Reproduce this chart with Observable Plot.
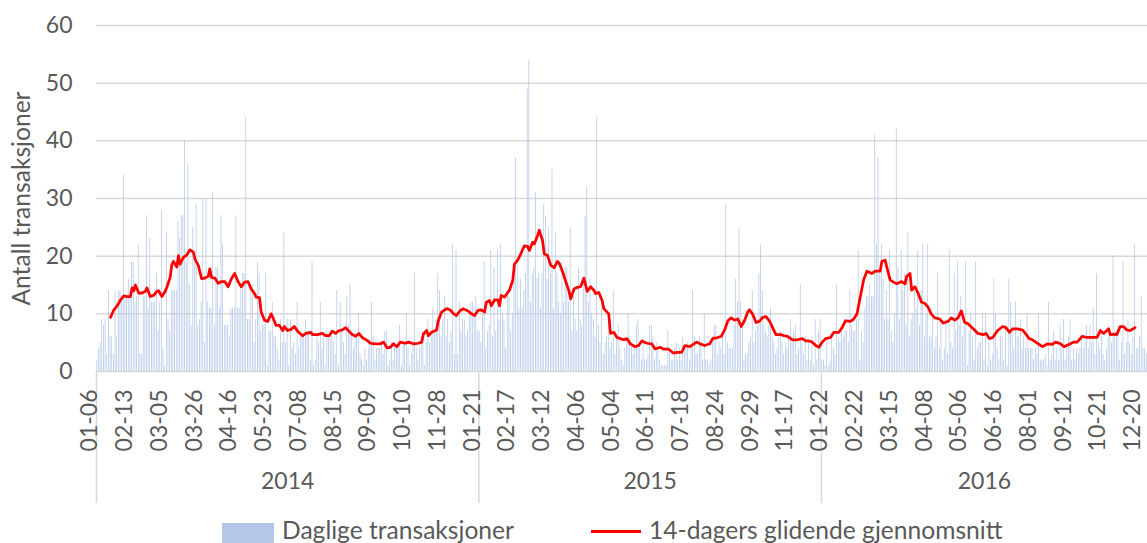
<!DOCTYPE html>
<html><head><meta charset="utf-8">
<script src="https://cdn.jsdelivr.net/npm/d3@7"></script>
<script src="https://cdn.jsdelivr.net/npm/@observablehq/plot@0.6"></script>
<style>
html,body{margin:0;padding:0;background:#fff;overflow:hidden;}
#wrap{position:relative;width:1147px;height:543px;font-family:Lato,sans-serif;color:#595959;}
#legend{position:absolute;left:0;top:512px;width:1147px;height:31px;font-size:24.6px;line-height:24px;}
#legend .sw{position:absolute;}
#legend .lbl{position:absolute;white-space:nowrap;}
</style></head>
<body><div id="wrap"><div id="chart"></div>
<div id="legend">
  <div class="sw" style="left:222px;top:11px;width:52px;height:20px;background:#b4c7e7"></div>
  <span class="lbl" style="left:282px;top:6px">Daglige transaksjoner</span>
  <div class="sw" style="left:591px;top:18px;width:50px;height:2.5px;background:#ff0000"></div>
  <span class="lbl" style="left:649px;top:6px">14-dagers glidende gjennomsnitt</span>
</div></div>
<script>
// ---- data ----
const years = ["2014", "2015", "2016"];
const bars2014 = [2,4,5,9,8,9,3,14,6,6,3,14,6,14,14,13,34,13,13,16,14,
 19,19,12,13,22,3,3,13,13,27,11,23,12,12,12,17,7,12,28,4,1,
 24,9,7,14,14,14,14,26,23,27,27,40,19,36,15,8,25,20,29,8,9,
 12,30,5,30,12,11,11,31,8,18,18,11,27,22,8,8,8,6,11,11,11,
 27,11,11,15,17,17,44,9,9,15,15,5,9,19,17,7,8,8,17,1,7,
 7,12,6,6,4,2,9,5,24,5,9,1,9,4,5,3,12,4,6,6,6,
 9,7,7,2,19,1,2,6,5,12,4,6,1,7,6,6,7,5,3,14,1,
 12,7,5,3,13,8,15,7,4,5,6,10,3,2,1,4,2,4,5,12,6,
 2,4,4,4,5,3,7,7,1,2,5,2,5,4,4,8,1,5,5,10,4,
 1,3,5,17,4,2,4,6,7,1,5,9,5,7,11,7,9,17,14,6,9,
 13,6,9,5,7,22,3,21,3,12,7,9,9,6,7,10,12,12,11,13,7];
const bars2015 = [7,5,10,19,4,7,8,21,6,18,7,21,9,22,10,9,4,14,13,7,10,
 17,37,19,11,16,11,14,17,49,54,12,17,18,31,16,17,11,17,29,27,16,
 25,17,35,11,24,17,12,10,19,12,18,18,12,25,7,13,9,7,18,9,8,
 16,27,32,12,16,10,9,6,44,8,5,11,3,5,6,10,4,5,14,3,6,
 8,4,2,1,4,5,10,6,5,3,4,8,9,5,2,6,2,2,3,8,8,
 6,2,5,4,2,1,1,1,1,7,4,2,2,4,5,2,4,2,6,4,4,
 5,2,4,14,6,3,3,6,5,2,10,2,2,1,2,5,8,8,3,5,4,
 6,3,29,5,4,4,4,8,16,12,25,12,9,2,3,3,5,6,14,5,7,
 8,17,22,14,8,7,6,8,11,6,5,3,4,6,7,5,3,5,4,6,9,
 5,7,8,3,4,15,5,3,6,2,5,2,6,1,9,2,7,9];
const bars2016 = [2,2,1,5,1,2,6,4,3,15,6,5,7,6,7,7,5,14,8,7,7,
 9,21,2,7,5,11,13,13,15,13,13,41,22,37,17,22,16,9,14,9,21,
 7,5,10,42,18,9,21,14,17,8,24,6,9,10,14,11,21,8,14,22,6,
 10,22,6,6,10,4,6,17,4,8,2,4,9,3,21,5,4,17,7,19,8,
 13,6,8,19,1,7,10,6,2,19,4,5,5,10,2,10,1,5,2,3,16,
 10,4,2,6,6,2,8,1,16,12,8,4,12,6,6,9,4,6,4,10,4,
 4,4,2,4,3,10,2,2,2,3,1,12,2,3,7,2,4,2,8,4,9,
 2,4,6,9,2,4,2,4,3,4,6,4,5,8,4,8,5,11,3,17,5,
 4,7,3,2,4,6,7,5,20,7,7,8,2,5,19,3,5,9,5,3,6,
 22,4,4,6,13,4,4,3];
const tickLabels = ["01-06","02-13","03-05","03-26","04-16","05-23","07-08","08-15","09-09","10-10","11-28",
 "01-21","02-17","03-12","04-06","05-04","06-11","07-18","08-24","09-29","11-17",
 "01-22","02-22","03-15","04-08","05-06","06-16","08-01","09-12","10-21","12-20"];
const tickEvery = 21;
const yTicks = [0,10,20,30,40,50,60];
const yTitle = "Antall transaksjoner";
// 14-day moving average: [category index, value]
const maIndex = [8,10,12,14,16,18,20,21,22,23,25,27,29,30,32,34,36,37,39,41,42,44,45,46,48,49,50,52,54,56,58,59,61,63,65,67,68,69,71,73,75,77,79,81,83,85,87,89,91,93,95,96,98,99,101,103,105,
 106,108,110,112,113,115,117,119,121,124,126,129,130,133,136,138,140,142,144,146,148,150,152,154,156,158,160,163,165,168,171,173,175,177,179,181,183,186,188,191,194,196,197,199,200,202,205,206,208,211,
 213,215,217,219,221,224,226,228,230,232,234,235,237,238,240,242,243,244,246,248,249,251,252,254,256,258,260,261,263,264,266,267,269,270,272,274,276,278,279,281,283,285,286,288,290,292,294,296,298,300,301,303,305,306,309,310,312,314,316,
 318,320,322,325,327,329,332,335,337,340,342,345,348,350,353,355,358,360,362,365,367,370,372,374,377,379,381,383,385,387,389,391,393,394,396,398,400,402,404,406,408,410,413,415,417,420,
 423,426,428,430,432,434,436,438,440,443,445,448,450,452,455,457,459,461,463,465,468,470,473,474,476,477,479,481,483,486,488,489,491,492,494,496,498,500,502,504,506,509,511,514,516,518,520,522,524,526,
 530,532,535,537,539,541,544,547,549,551,553,556,559,561,563,565,567,569,571,574,577,579,582,584,587,590,592,595,598,601,604,606,608,611,612,615,616,618,620,622,624,627];
const maValue = [9.4,10.7,11.4,12.4,13.1,13.0,13.0,14.5,14.0,15.0,13.6,13.6,13.9,14.5,13.0,13.2,13.9,14.0,13.0,13.9,14.6,16.3,18.5,19.1,18.1,20.1,18.6,19.8,20.2,21.1,20.7,19.5,18.4,16.1,16.2,16.5,17.8,16.3,16.2,15.3,15.6,15.6,14.7,16.1,17.0,15.6,14.7,15.5,15.6,14.3,13.5,12.9,12.8,10.3,8.9,8.7,10.0,
 9.4,8.0,8.0,7.1,7.8,7.1,7.3,7.8,7.0,6.2,6.6,6.8,6.4,6.4,6.6,6.2,6.2,7.0,6.6,7.1,7.2,7.6,7.0,6.4,6.1,6.6,5.9,5.4,4.9,4.8,4.8,5.1,4.1,4.2,4.8,4.3,5.1,4.9,5.1,4.8,4.9,5.1,6.5,7.1,6.2,6.8,7.2,8.8,10.3,10.9,
 10.7,10.1,9.7,10.5,10.9,10.5,10.0,9.7,10.6,10.7,10.3,12.0,12.3,11.4,12.4,12.4,11.4,13.2,12.9,13.7,14.1,15.8,18.6,19.3,20.5,21.8,21.7,21.0,22.4,22.1,23.6,24.5,22.7,20.4,20.1,18.4,18.0,19.1,18.8,17.4,15.6,13.9,12.6,14.3,14.6,14.7,16.2,13.9,14.7,14.1,13.5,13.7,12.3,10.9,10.0,6.6,6.8,5.9,5.7,
 5.5,5.7,4.8,4.3,4.5,5.3,4.9,4.8,3.9,4.2,3.9,3.9,3.2,3.3,3.3,4.5,4.3,4.7,5.1,4.7,4.5,4.8,5.8,5.8,6.1,7.2,8.8,9.3,8.9,9.1,7.8,8.8,10.3,10.7,9.9,8.5,8.7,9.4,9.5,8.8,7.6,6.4,6.4,6.2,6.1,5.5,
 5.5,5.7,5.3,5.3,5.1,4.5,4.2,5.1,5.7,5.9,6.8,6.8,7.6,8.8,8.7,9.1,10.0,13.0,15.9,17.4,17.0,17.4,17.4,19.1,19.3,18.1,15.9,15.5,15.2,15.6,15.2,16.5,17.0,14.1,14.7,13.5,12.0,11.8,11.1,9.9,9.3,9.1,8.4,8.7,9.3,8.9,9.3,10.5,8.5,8.3,
 7.2,6.6,6.4,6.6,5.7,5.9,7.1,7.8,7.6,6.8,7.4,7.4,7.2,6.5,5.7,5.5,5.1,4.7,4.3,4.8,4.7,5.1,4.8,4.3,4.7,5.1,5.1,6.1,5.9,5.9,5.9,7.1,6.6,7.4,6.4,6.5,6.4,7.8,7.8,7.2,7.1,7.6];

// ---- build tables ----
const yearBars = [bars2014, bars2015, bars2016];
const daily = [];
const yearStart = [];
yearBars.forEach((arr) => { yearStart.push(daily.length); arr.forEach(v => daily.push({i: daily.length, v})); });
const N = daily.length;
const yearInfo = years.map((y, k) => ({year: y, start: yearStart[k], end: k < years.length - 1 ? yearStart[k + 1] : N}));
const ticks = tickLabels.map((t, k) => ({i: k * tickEvery, t}));
const ma = maIndex.map((i, k) => ({i, v: maValue[k]}));
const grey = "#595959", gridC = "#d9d9d9";

const chart = Plot.plot({
  width: 1147, height: 512,
  marginLeft: 96, marginRight: 0, marginTop: 25, marginBottom: 141,
  x: {type: "linear", domain: [0, N], axis: null},
  y: {domain: [0, 60], axis: null},
  style: {fontFamily: "Lato, sans-serif", background: "#fff", color: grey, overflow: "visible"},
  marks: [
    Plot.ruleY(yTicks, {stroke: gridC, strokeWidth: 1.5}),
    Plot.rectY(daily, {x1: d => d.i, x2: d => d.i + 1, y: "v", insetLeft: 0.45, insetRight: 0.45, fill: "#b4c7e7"}),
    Plot.ruleX(yearInfo, {x: "start", y1: () => 0, y2: () => 0, insetBottom: -132, stroke: gridC, strokeWidth: 1.5}),
    Plot.line(ma, {x: d => d.i + 0.5, y: "v", stroke: "#ff0000", strokeWidth: 2.75, strokeLinejoin: "round"}),
    Plot.text(yTicks, {x: () => 0, y: d => d, text: d => String(d), textAnchor: "end", dx: -24, fontSize: 23, fill: grey}),
    Plot.text(ticks, {x: d => d.i + 0.5, frameAnchor: "bottom", text: "t", rotate: -90, textAnchor: "end", dy: 18, fontSize: 23, fill: grey}),
    Plot.text(yearInfo, {x: d => (d.start + d.end) / 2, frameAnchor: "bottom", text: "year", dy: 117, fontSize: 23, fill: grey}),
    Plot.text([yTitle], {frameAnchor: "left", rotate: -90, textAnchor: "middle", dx: -74, fontSize: 24.6, fill: grey})
  ]
});
document.getElementById("chart").appendChild(chart);
</script>
</body></html>
